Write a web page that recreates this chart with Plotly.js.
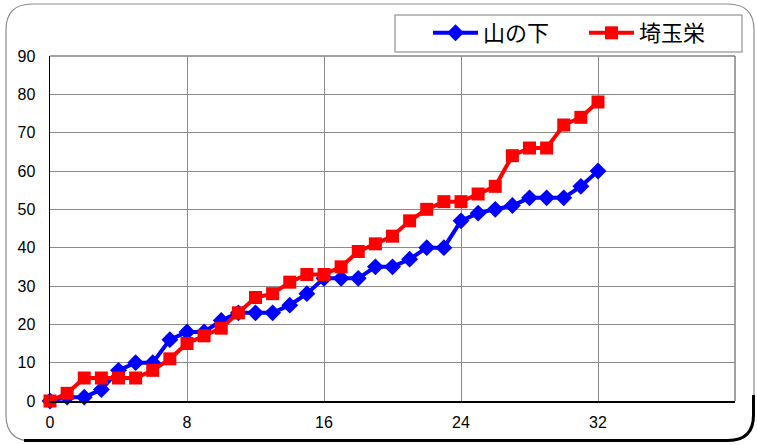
<!DOCTYPE html>
<html>
<head>
<meta charset="utf-8">
<script src="https://cdn.plot.ly/plotly-3.0.1.min.js"></script>
<style>html,body{margin:0;padding:0;background:#fff;}#chart{width:757px;height:445px;}</style>
</head>
<body>
<div id="chart"></div>
<script>
// Data
const games = [0,1,2,3,4,5,6,7,8,9,10,11,12,13,14,15,16,17,18,19,20,21,22,23,24,25,26,27,28,29,30,31,32];
const yamanoshita = [0,1,1,3,8,10,10,16,18,18,21,23,23,23,25,28,32,32,32,35,35,37,40,40,47,49,50,51,53,53,53,56,60];
const saitamasakae = [0,2,6,6,6,6,8,11,15,17,19,23,27,28,31,33,33,35,39,41,43,47,50,52,52,54,56,64,66,66,72,74,78];
const seriesNames = ['山の下','埼玉栄'];
const xTicks = [0,8,16,24,32];
const yTicks = [0,10,20,30,40,50,60,70,80,90];

// geometry helpers (pixel -> paper)
const L = 50, R = 22, T = 56, B = 44, W = 757, H = 445;
const pw = W - L - R, ph = H - T - B;
const px = x => (x - L) / pw;
const py = y => (H - B - y) / ph;
function P(x, y) { return px(x).toFixed(5) + ',' + py(y).toFixed(5); }

// rounded outer frame
const x0 = 6, y0 = 4, x1 = 754, y1 = 441, r = 26;
const framePath = 'M' + P(x0 + r, y0) + ' L' + P(x1 - r, y0) + ' Q' + P(x1, y0) + ' ' + P(x1, y0 + r) +
  ' L' + P(x1, y1 - r) + ' Q' + P(x1, y1) + ' ' + P(x1 - r, y1) +
  ' L' + P(x0 + r, y1) + ' Q' + P(x0, y1) + ' ' + P(x0, y1 - r) +
  ' L' + P(x0, y0 + r) + ' Q' + P(x0, y0) + ' ' + P(x0 + r, y0) + ' Z';
const shadowPath = 'M' + P(x0 + r - 8, y1 - 0.5) + ' L' + P(x1 - r, y1 - 0.5) + ' Q' + P(x1 - 0.5, y1 - 0.5) + ' ' + P(x1 - 0.5, y1 - r) +
  ' L' + P(x1 - 0.5, y1 - r - 20);

const traces = [
  {
    x: games, y: yamanoshita, name: seriesNames[0], type: 'scatter', mode: 'lines+markers',
    line: {color: '#0000FF', width: 4},
    marker: {symbol: 'diamond', size: 13, color: '#0000FF'},
    cliponaxis: false
  },
  {
    x: games, y: saitamasakae, name: seriesNames[1], type: 'scatter', mode: 'lines+markers',
    line: {color: '#FF0000', width: 4},
    marker: {symbol: 'square', size: 13, color: '#FF0000'},
    cliponaxis: false
  }
];

const layout = {
  width: W, height: H,
  margin: {l: L, r: R, t: T, b: B, pad: 0, autoexpand: false},
  paper_bgcolor: 'rgba(0,0,0,0)',
  plot_bgcolor: 'rgba(0,0,0,0)',
  font: {family: 'Liberation Sans, Arial, sans-serif', size: 16, color: '#000'},
  showlegend: true,
  legend: {
    orientation: 'h', x: px(428), y: py(33), xanchor: 'left', yanchor: 'middle',
    font: {family: 'Noto Sans CJK JP, sans-serif', size: 22, color: '#000'},
    bgcolor: 'rgba(0,0,0,0)', borderwidth: 0, itemwidth: 45, entrywidth: 96, entrywidthmode: 'pixels'
  },
  xaxis: {
    range: [0, 40], tickvals: xTicks, ticktext: xTicks.map(String),
    showgrid: true, gridcolor: '#8a8a8a', gridwidth: 1,
    showline: true, linecolor: '#000', linewidth: 1.5, mirror: false,
    zeroline: false, ticks: '', ticklabelstandoff: 6, fixedrange: true
  },
  yaxis: {
    range: [0, 90], tickvals: yTicks, ticktext: yTicks.map(String),
    showgrid: true, gridcolor: '#8a8a8a', gridwidth: 1,
    showline: true, linecolor: '#000', linewidth: 1.5, mirror: false,
    zeroline: false, ticks: '', ticklabelstandoff: 10, fixedrange: true
  },
  shapes: [
    {type: 'path', xref: 'paper', yref: 'paper', path: framePath, line: {color: '#8c8c8c', width: 1.2}, layer: 'below'},
    {type: 'path', xref: 'paper', yref: 'paper', path: shadowPath, line: {color: '#000', width: 3}, layer: 'below'},
    {type: 'rect', xref: 'paper', yref: 'paper', x0: px(395), x1: px(742), y0: py(52), y1: py(15), line: {color: '#a8a8a8', width: 1.5}, fillcolor: '#fff', layer: 'below'},
    {type: 'line', xref: 'paper', yref: 'paper', x0: 0, x1: 1, y0: 1, y1: 1, line: {color: '#444', width: 1}, layer: 'below'},
    {type: 'line', xref: 'paper', yref: 'paper', x0: 1, x1: 1, y0: 0, y1: 1, line: {color: '#444', width: 1}, layer: 'below'}
  ]
};

Plotly.newPlot('chart', traces, layout, {staticPlot: true, displayModeBar: false});
</script>
</body>
</html>
